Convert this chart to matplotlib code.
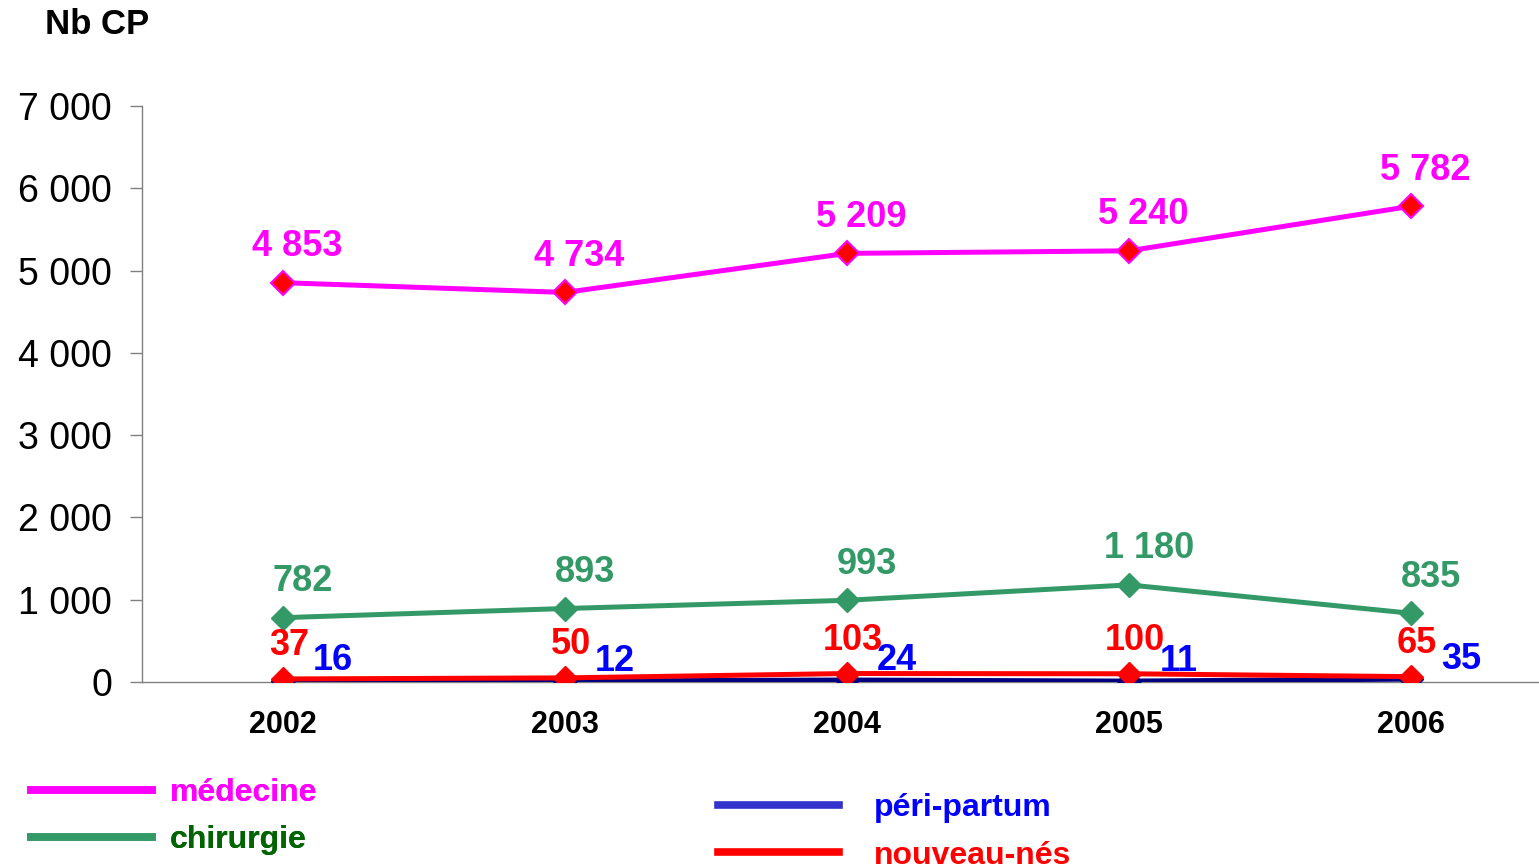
import matplotlib.pyplot as plt
from matplotlib.lines import Line2D
from matplotlib.ticker import FuncFormatter

plt.rcParams['font.family'] = ['Liberation Sans', 'DejaVu Sans']

# données
annees = ['2002', '2003', '2004', '2005', '2006']
medecine = [4853, 4734, 5209, 5240, 5782]
chirurgie = [782, 893, 993, 1180, 835]
peri_partum = [16, 12, 24, 11, 35]
nouveau_nes = [37, 50, 103, 100, 65]

def fmt(v):
    return '{:,}'.format(int(v)).replace(',', ' ')

fig = plt.figure(figsize=(15.39, 8.68), dpi=100)
ax = fig.add_axes([142/1539, 1-682/868, 1-142/1539, (682-106)/868])

x = [i + 0.5 for i in range(len(annees))]

ax.plot(x, chirurgie, color='#339966', lw=3.6, marker='D', ms=12,
        mfc='#339966', mec='#339966', zorder=3)
ax.plot(x, medecine, color='#FF00FF', lw=3.6, marker='D', ms=12,
        mfc='#FF0000', mec='#FF00FF', mew=1.5, zorder=3)
ax.plot(x, peri_partum, color='#000080', lw=3.6, marker='D', ms=12,
        mfc='#000080', mec='#000080', zorder=3)
ax.plot(x, nouveau_nes, color='#FF0000', lw=3.6, marker='D', ms=12,
        mfc='#FF0000', mec='#FF0000', zorder=4)

# étiquettes de données
lab = dict(ha='center', va='center', fontsize=26, fontweight='bold',
           textcoords='offset pixels')
for xi, v in zip(x, medecine):
    ax.annotate(fmt(v), (xi, v), xytext=(14, 36), color='#FF00FF', **lab)
for xi, v in zip(x, chirurgie):
    ax.annotate(fmt(v), (xi, v), xytext=(20, 36), color='#339966', **lab)
for xi, v in zip(x, nouveau_nes):
    ax.annotate(fmt(v), (xi, v), xytext=(6, 33), color='#FF0000', **lab)
for xi, v in zip(x, peri_partum):
    ax.annotate(fmt(v), (xi, v), xytext=(50, 20), color='#0000FF', **lab)

ax.set_xlim(0, (1539-142)/282)
ax.set_ylim(0, 7000)
ax.set_yticks(range(0, 7001, 1000))
ax.yaxis.set_major_formatter(FuncFormatter(lambda v, p: fmt(v)))
ax.set_xticks(x)
ax.set_xticklabels(annees, fontsize=22, fontweight='bold')
ax.tick_params(axis='x', length=0, pad=20)
ax.tick_params(axis='y', labelsize=27, length=8.6, width=1, color='#808080', pad=13)
for s in ['top', 'right']:
    ax.spines[s].set_visible(False)
for s in ['left', 'bottom']:
    ax.spines[s].set_color('#808080')
    ax.spines[s].set_linewidth(1)

fig.text(45/1539, 1-25/868, 'Nb CP', fontsize=25, fontweight='bold', va='center')

# légende
h1 = [Line2D([], [], color='#FF00FF', lw=5.5), Line2D([], [], color='#339966', lw=5.5)]
h2 = [Line2D([], [], color='#3333CC', lw=5.5), Line2D([], [], color='#FF0000', lw=5.5)]
leg1 = fig.legend(h1, ['médecine', 'chirurgie'], loc='upper left',
                  bbox_to_anchor=(2/1539, 1-749/868), frameon=False,
                  prop={'size': 23, 'weight': 'bold'}, handlelength=3.8,
                  handletextpad=0.55, labelspacing=0.53,
                  labelcolor=['#FF00FF', '#006400'])
leg2 = fig.legend(h2, ['péri-partum', 'nouveau-nés'], loc='upper left',
                  bbox_to_anchor=(689/1539, 1-764/868), frameon=False,
                  prop={'size': 23, 'weight': 'bold'}, handlelength=3.8,
                  handletextpad=1.1, labelspacing=0.56,
                  labelcolor=['#0000FF', '#FF0000'])
fig.add_artist(leg1)

fig.savefig('out.png', dpi=100)
